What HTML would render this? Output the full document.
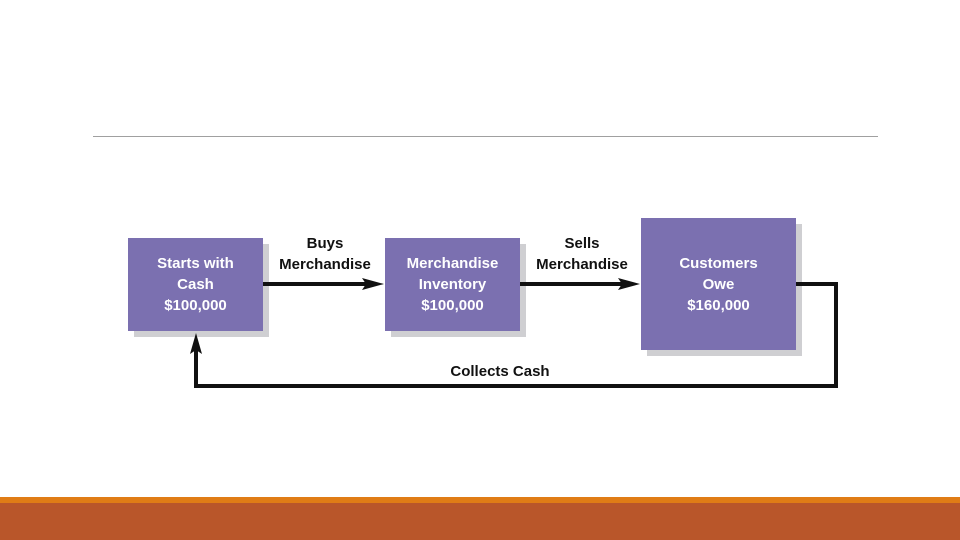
<!DOCTYPE html>
<html><head><style>
body{margin:0;width:960px;height:540px;background:#fff;position:relative;overflow:hidden;font-family:"Liberation Sans",sans-serif;}
.sh{position:absolute;background:#cfcfd2;}
.bx{position:absolute;background:#7b70b0;color:#fff;font-weight:bold;font-size:15px;line-height:21px;text-align:center;display:flex;align-items:center;justify-content:center;}
.lb{position:absolute;font-weight:bold;font-size:15px;line-height:21px;text-align:center;color:#111;}
</style></head><body>
<div style="position:absolute;left:93px;top:136px;width:785px;height:1px;background:#a0a0a0"></div>
<div style="position:absolute;left:0;top:497px;width:960px;height:6px;background:#e07c16"></div>
<div style="position:absolute;left:0;top:503px;width:960px;height:37px;background:#b9562a"></div>

<div class="sh" style="left:134px;top:244px;width:135px;height:93px"></div>
<div class="bx" style="left:128px;top:238px;width:135px;height:93px">Starts with<br>Cash<br>$100,000</div>
<div class="sh" style="left:391px;top:244px;width:135px;height:93px"></div>
<div class="bx" style="left:385px;top:238px;width:135px;height:93px">Merchandise<br>Inventory<br>$100,000</div>
<div class="sh" style="left:647px;top:224px;width:155px;height:132px"></div>
<div class="bx" style="left:641px;top:218px;width:155px;height:132px">Customers<br>Owe<br>$160,000</div>

<div class="lb" style="left:265px;top:233px;width:120px">Buys<br>Merchandise</div>
<div class="lb" style="left:522px;top:233px;width:120px">Sells<br>Merchandise</div>
<div class="lb" style="left:420px;top:361px;width:160px">Collects Cash</div>

<svg width="960" height="540" style="position:absolute;left:0;top:0">
<g stroke="#111" stroke-width="4" fill="none">
<line x1="263" y1="284" x2="370" y2="284"/>
<line x1="520" y1="284" x2="626" y2="284"/>
<polyline points="796,284 836,284 836,386 196,386 196,348"/>
</g>
<g fill="#111">
<polygon points="384,284 362,278 366,284 362,290"/>
<polygon points="640,284 618,278 622,284 618,290"/>
<polygon points="196,333 190,354 196,350 202,354"/>
</g>
</svg>
</body></html>
